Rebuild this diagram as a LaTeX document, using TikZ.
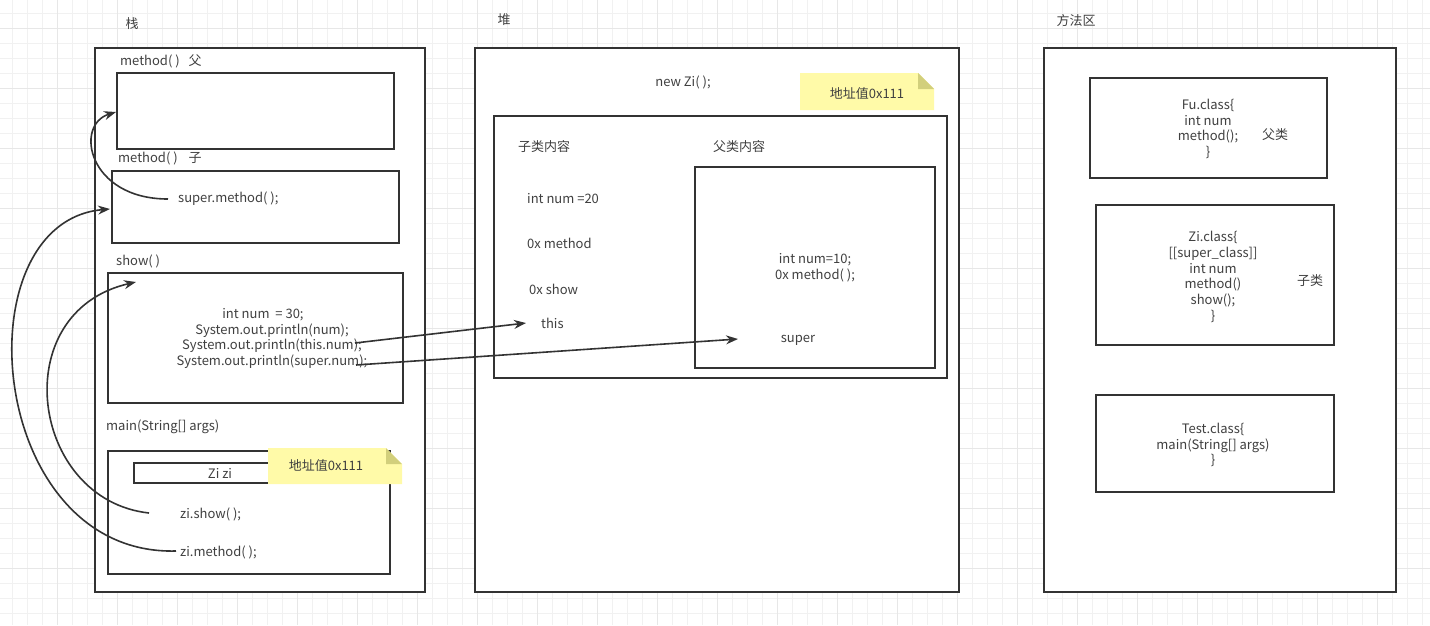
\documentclass[tikz,border=0pt]{standalone}
\usepackage{fontspec}
\setmainfont{Noto Sans CJK SC}
\usetikzlibrary{arrows.meta}
\definecolor{ink}{HTML}{333333}
\definecolor{txt}{HTML}{404040}
\definecolor{gridc}{HTML}{F1F1F1}
\definecolor{gridm}{HTML}{E7E7E7}
\definecolor{notefill}{HTML}{FFFAA8}
\definecolor{notefold}{HTML}{D2CF7C}
\begin{document}
\begin{tikzpicture}[x=1pt,y=-1pt,
  box/.style={draw=ink, line width=1.7pt, fill=white, anchor=north west, inner sep=0pt, outer sep=0pt},
  lbl/.style={text=txt, font=\fontsize{13}{15.8}\selectfont, inner sep=0pt, anchor=west},
  ctext/.style={text=txt, font=\fontsize{13}{15.8}\selectfont, inner sep=0pt, align=center},
  conn/.style={draw=ink, line width=1.6pt, -{Stealth[length=12pt,width=9pt]}}
]
\useasboundingbox (0,0) rectangle (1430,625);
\fill[white] (0,0) rectangle (1430,625);
% grid
\foreach \i in {0,...,94} { \pgfmathtruncatemacro\xx{12+15*\i} \draw[gridc, line width=1pt] (\xx,0) -- (\xx,625); }
\foreach \j in {0,...,40} { \pgfmathtruncatemacro\yy{13+15*\j} \draw[gridc, line width=1pt] (0,\yy) -- (1430,\yy); }
\foreach \i in {3,7,...,94} { \pgfmathtruncatemacro\xx{12+15*\i} \draw[gridm, line width=1pt] (\xx,0) -- (\xx,625); }
\foreach \j in {1,5,...,40} { \pgfmathtruncatemacro\yy{13+15*\j} \draw[gridm, line width=1pt] (0,\yy) -- (1430,\yy); }

% ===== titles =====
\node[ctext] (tstack) at (132,24) {栈};
\node[ctext] (theap) at (504,20) {堆};
\node[ctext] (tmeth) at (1076,21) {方法区};

% ===== outer regions =====
\node[box, minimum width=330pt, minimum height=544pt] (stack) at (95,48) {};
\node[box, minimum width=484pt, minimum height=544pt] (heap) at (475,48) {};
\node[box, minimum width=352pt, minimum height=544pt] (marea) at (1044,48) {};

% ===== stack frames =====
\node[lbl] (lfu) at (120,61) {method( )\hspace{9pt}父};
\node[box, minimum width=277pt, minimum height=76pt] (fu) at (117,73) {};
\node[lbl] (lzi) at (118,158) {method( )\hspace{11pt}子};
\node[box, minimum width=287pt, minimum height=72pt] (zim) at (112,171) {};
\node[lbl] (sm) at (178,199) {super.method( );};
\node[lbl] (lshow) at (116,261) {show( )};
\node[box, minimum width=295pt, minimum height=130pt] (show) at (108,273) {};
\node[ctext] (l1) at (263,315) {int num\ \ = 30;};
\node[ctext] (l2) at (272,331) {System.out.println(num);};
\node[ctext] (l3) at (272,346) {System.out.println(this.num);};
\node[ctext] (l4) at (272,362) {System.out.println(super.num);};
\node[lbl] (lmain) at (106,427) {main(String[] args)};
\node[box, minimum width=282pt, minimum height=123pt] (main) at (108,451) {};
\node[box, line width=1.5pt, minimum width=174pt, minimum height=20pt] (zibox) at (134,463) {};
\node[ctext] (zizi) at (220,473) {Zi zi};
\fill[notefill] (268,448) -- (386,448) -- (402,464) -- (402,484) -- (268,484) -- cycle;
\fill[notefold] (386,448) -- (386,464) -- (402,464) -- cycle;
\node[ctext] (note1) at (326,466) {地址值0x111};
\node[lbl] (zshow) at (180,514) {zi.show( );};
\node[lbl] (zmeth) at (180,552) {zi.method( );};

% ===== heap =====
\node[ctext] (newzi) at (683,82) {new Zi( );};
\fill[notefill] (800,73) -- (918,73) -- (934,89) -- (934,110) -- (800,110) -- cycle;
\fill[notefold] (918,73) -- (918,89) -- (934,89) -- cycle;
\node[ctext] (note2) at (867,94) {地址值0x111};
\node[box, minimum width=453pt, minimum height=262pt] (obj) at (494,116) {};
\node[lbl] (zinr) at (518,147) {子类内容};
\node[lbl] (funr) at (713,147) {父类内容};
\node[lbl] (inum) at (527,199) {int num =20};
\node[lbl] (oxm) at (527,243) {0x method};
\node[lbl] (oxs) at (529,289) {0x show};
\node[lbl] (this) at (541,323) {this};
\node[box, minimum width=240pt, minimum height=201pt] (par) at (695,167) {};
\node[ctext] (pn) at (815,268) {int num=10;\\0x method( );};
\node[ctext] (super) at (798,340) {super};

% ===== method area =====
\node[box, minimum width=237pt, minimum height=100pt] (fuc) at (1090,78) {};
\node[ctext] (fut) at (1208,129) {Fu.class\{\\int num\\method();\\\}};
\node[ctext] (fulbl) at (1275,135) {父类};
\node[box, minimum width=238pt, minimum height=140pt] (zic) at (1096,205) {};
\node[ctext] (zit) at (1213,277) {Zi.class\{\\{[}[super\_class]]\\int num\\method()\\show();\\\}};
\node[ctext] (zilbl) at (1310,281) {子类};
\node[box, minimum width=238pt, minimum height=97pt] (tc) at (1096,395) {};
\node[ctext] (tt) at (1213,445) {Test.class\{\\main(String[] args)\\\}};

% ===== connectors =====
\coordinate (a1s) at (168,199);
\coordinate (a1e) at (116,112);
\draw[conn] (a1s) .. controls (88,199) and (74,125) .. (a1e);
\coordinate (a2s) at (176,551);
\coordinate (a2e) at (110,209);
\draw[conn] (a2s) .. controls (-14,556) and (-40,222) .. (a2e);
\coordinate (a3s) at (149,513);
\coordinate (a3e) at (136,282);
\draw[conn] (a3s) .. controls (30,500) and (5,312) .. (a3e);
\coordinate (a4s) at (355,343);
\coordinate (a4e) at (526,323);
\draw[conn] (a4s) -- (a4e);
\coordinate (a5s) at (356,365);
\coordinate (a5e) at (738,339);
\draw[conn] (a5s) -- (a5e);
\end{tikzpicture}
\end{document}
